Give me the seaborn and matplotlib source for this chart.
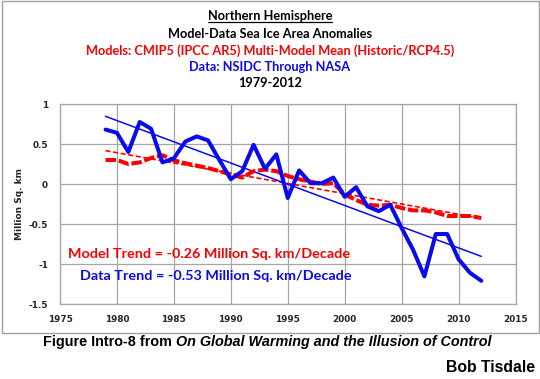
import numpy as np
import pandas as pd
import matplotlib
matplotlib.use("Agg")
import matplotlib.pyplot as plt
import seaborn as sns
from matplotlib.patches import Rectangle
from matplotlib.lines import Line2D

years = list(range(1979, 2013))
data_nsidc = [0.68, 0.64, 0.40, 0.775, 0.69, 0.27, 0.32, 0.53, 0.595, 0.545,
              0.30, 0.06, 0.16, 0.49, 0.19, 0.37, -0.175, 0.17, 0.01, 0.01,
              0.08, -0.16, -0.04, -0.28, -0.34, -0.26, -0.55, -0.82, -1.155, -0.625,
              -0.625, -0.94, -1.11, -1.21]
model_mean = [0.30, 0.30, 0.25, 0.27, 0.325, 0.36, 0.295, 0.26, 0.23, 0.20,
              0.16, 0.12, 0.08, 0.16, 0.18, 0.16, 0.10, 0.06, 0.03, 0.0,
              0.01, -0.13, -0.20, -0.26, -0.27, -0.26, -0.30, -0.33, -0.33, -0.355,
              -0.40, -0.40, -0.40, -0.425]
x_ticks = [1975, 1980, 1985, 1990, 1995, 2000, 2005, 2010, 2015]
y_ticks = [1, 0.5, 0, -0.5, -1, -1.5]
y_tick_labels = ["1", "0.5", "0", "-0.5", "-1", "-1.5"]
title_lines = ["Northern Hemisphere", "Model-Data Sea Ice Area Anomalies",
               "Models: CMIP5 (IPCC AR5) Multi-Model Mean (Historic/RCP4.5)",
               "Data: NSIDC Through NASA", "1979-2012"]
model_trend_text = "Model Trend = -0.26 Million Sq. km/Decade"
data_trend_text = "Data Trend = -0.53 Million Sq. km/Decade"

RED = "#ff0000"
BLUE = "#0a0af0"
GRID = "#a6a6a6"

df = pd.DataFrame({"year": years, "data": data_nsidc, "model": model_mean})
yr = np.array(years, dtype=float)
pm = np.polyfit(yr, np.array(model_mean), 1)
pd_ = np.polyfit(yr, np.array(data_nsidc), 1)
df["model_trend"] = np.polyval(pm, yr)
df["data_trend"] = np.polyval(pd_, yr)

sns.set_style("white")
plt.rcParams["font.family"] = ["DejaVu Sans"]

fig = plt.figure(figsize=(5.4, 3.79), dpi=100)
ax = fig.add_axes([60/540, 1-304/379, (515.5-60)/540, 200/379])

sns.lineplot(data=df, x="year", y="model_trend", ax=ax, color=RED, lw=1.2, zorder=3)
ax.lines[-1].set_linestyle((0, (3, 1.6)))
sns.lineplot(data=df, x="year", y="data_trend", ax=ax, color=BLUE, lw=1.1, zorder=3)
sns.lineplot(data=df, x="year", y="model", ax=ax, color=RED, lw=2.9, zorder=4)
ax.lines[-1].set_linestyle((0, (2.6, 0.7)))
sns.lineplot(data=df, x="year", y="data", ax=ax, color=BLUE, lw=2.9, zorder=5)

ax.set_xlim(1975, 2015)
ax.set_ylim(-1.5, 1)
ax.set_xticks(x_ticks)
ax.set_yticks(y_ticks)
ax.set_yticklabels(y_tick_labels)
ax.set_xlabel("")
ax.set_ylabel("Million Sq. km", fontsize=6.5, fontweight="bold")
ax.yaxis.set_label_coords((24-60)/455.5, 0.5)
ax.grid(True, color=GRID, lw=0.9)
ax.set_axisbelow(True)
for s in ax.spines.values():
    s.set_color(GRID)
    s.set_linewidth(0.9)
ax.tick_params(axis="x", length=0, pad=8, labelsize=6.4)
ax.tick_params(axis="y", length=3.6, width=0.9, color=GRID, pad=5, labelsize=6.4)
for t in ax.get_xticklabels() + ax.get_yticklabels():
    t.set_fontweight("bold")

ax.text(1975.73, -0.87, model_trend_text, color=RED, fontsize=10.4,
        family="Lato", fontweight="bold", va="center", ha="left", zorder=6)
ax.text(1976.8, -1.155, data_trend_text, color=BLUE, fontsize=10.4,
        family="Lato", fontweight="bold", va="center", ha="left", zorder=6)

# figure border
fig.patches.append(Rectangle((2/540, 1-333/379), 537/540, 332/379, transform=fig.transFigure,
                             fill=False, edgecolor="#a0a0a0", lw=1.0))

ys = [16.5, 34, 51, 67, 83]
cols = ["black", "black", RED, BLUE, "black"]
tobjs = []
for txt, y, c in zip(title_lines, ys, cols):
    tobjs.append(fig.text(270/540, 1-y/379, txt, ha="center", va="center", color=c,
                          fontsize=9.2, family="Lato", fontweight="bold"))

fig.canvas.draw()
r = fig.canvas.get_renderer()
bb = tobjs[0].get_window_extent(r).transformed(fig.transFigure.inverted())
uy = bb.y0 + 0.002
fig.lines.append(Line2D([bb.x0, bb.x1], [uy, uy], transform=fig.transFigure, color="black", lw=0.9))

c1 = fig.text(43/540, 1-342/379, "Figure Intro-8 from ", ha="left", va="center",
              fontsize=10.4, family="Liberation Sans", fontweight="bold", color="black")
fig.canvas.draw()
b1 = c1.get_window_extent(r).transformed(fig.transFigure.inverted())
fig.text(b1.x1, 1-342/379, "On Global Warming and the Illusion of Control", ha="left", va="center",
         fontsize=10.4, family="Liberation Sans", fontweight="bold", style="italic", color="black")
fig.text(535.5/540, 1-368/379, "Bob Tisdale", ha="right", va="center",
         fontsize=11.3, family="Liberation Sans", fontweight="bold", color="black")

fig.savefig("out.png", dpi=100)
